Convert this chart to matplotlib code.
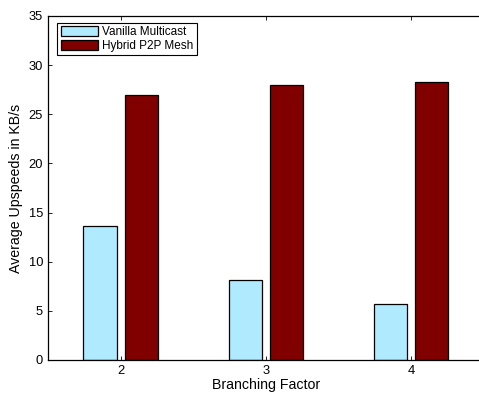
import matplotlib
matplotlib.use("Agg")
import matplotlib.pyplot as plt
import numpy as np

plt.rcParams['font.family'] = ['Liberation Sans', 'DejaVu Sans']

categories = [2, 3, 4]
vanilla = [13.63, 8.1, 5.66]
hybrid = [27.0, 27.94, 28.3]
series_names = ["Vanilla Multicast", "Hybrid P2P Mesh"]

fig = plt.figure(figsize=(4.79, 3.96), dpi=100)
W, H = 479, 396
x0, x1 = 48, 483.5
y0, y1 = 360, 16
ax = fig.add_axes([x0 / W, (H - y0) / H, (x1 - x0) / W, (y0 - y1) / H])

x = np.array(categories, dtype=float)
bw = 0.229
off = 0.142
ax.bar(x - off, vanilla, bw, color='#b0eaff', edgecolor='black', linewidth=0.9, label=series_names[0])
ax.bar(x + off, hybrid, bw, color='#800000', edgecolor='black', linewidth=0.9, label=series_names[1])

ax.set_xlim(1.5, 4.5)
ax.set_ylim(0, 35)
ax.set_xticks(categories)
ax.set_yticks(np.arange(0, 36, 5))
ax.tick_params(direction='in', length=3, width=0.6, labelsize=9.3, top=True, right=False, pad=3.5)
for s in ax.spines.values():
    s.set_linewidth(0.9)
ax.set_xlabel("Branching Factor", fontsize=10.2, labelpad=1)
ax.set_ylabel("Average Upspeeds in KB/s", fontsize=10.2, labelpad=4)

leg = ax.legend(loc='upper left', bbox_to_anchor=((57 - x0) / (x1 - x0), 1 - (22.7 - y1) / (y0 - y1)),
                fontsize=8.5, frameon=True, fancybox=False, edgecolor='black', framealpha=1,
                borderpad=0.3, handlelength=3.2, handleheight=0.95, handletextpad=0.35,
                labelspacing=0.1, borderaxespad=0)
leg.get_frame().set_linewidth(0.8)

fig.savefig("out.png", dpi=100)
